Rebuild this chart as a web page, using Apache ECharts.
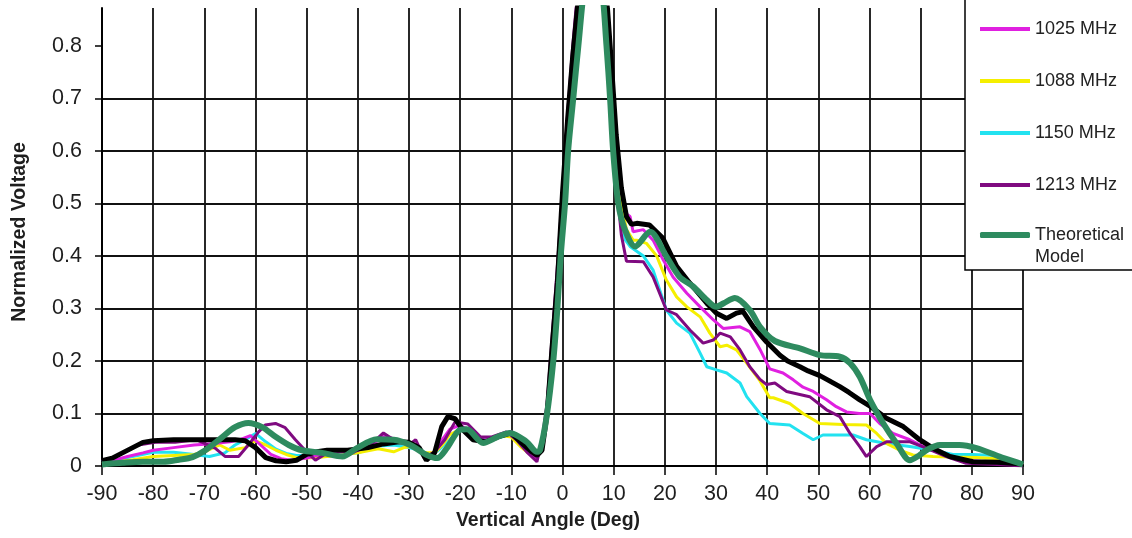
<!DOCTYPE html>
<html>
<head>
<meta charset="utf-8">
<script src="https://cdn.jsdelivr.net/npm/echarts@6/dist/echarts.min.js"></script>
<style>
html,body{margin:0;padding:0;background:#fff;}
#chart{width:1132px;height:538px;}
</style>
</head>
<body>
<div id="chart"></div>
<script>
// ---- Data (angle in degrees, normalized voltage) ----
const xTicks = [-90, 90, 10];
const yTickValues = [0, 0.1, 0.2, 0.3, 0.4, 0.5, 0.6, 0.7, 0.8];

const s962 = [[-90,0.01],[-88,0.015],[-86,0.025],[-84,0.035],[-82,0.045],[-80,0.048],[-76,0.05],[-72,0.05],[-68,0.05],[-64,0.05],[-62,0.048],[-60,0.035],[-58,0.016],[-56,0.01],[-54,0.008],[-52,0.011],[-50,0.022],[-48,0.027],[-46,0.03],[-42,0.03],[-38,0.035],[-35,0.042],[-32,0.046],[-30,0.045],[-28,0.035],[-26.6,0.011],[-25,0.025],[-23.6,0.075],[-22.4,0.094],[-21,0.09],[-19.5,0.069],[-17.5,0.05],[-15,0.046],[-12.5,0.056],[-10,0.063],[-8,0.044],[-6,0.027],[-5,0.02],[-4,0.03],[-3,0.1],[-2,0.23],[-1,0.35],[0,0.52],[1,0.66],[2,0.78],[3,0.88],[6,1.0],[8,0.93],[8.8,0.87],[9.6,0.76],[10.5,0.63],[11.5,0.53],[12.5,0.475],[13.5,0.46],[14.5,0.462],[17,0.459],[19.6,0.434],[22.3,0.38],[24.9,0.348],[28.2,0.31],[30.1,0.291],[32.1,0.281],[34,0.291],[35.3,0.294],[37.3,0.265],[39.9,0.236],[42.5,0.211],[44,0.2],[46.4,0.189],[48,0.181],[50.3,0.172],[52,0.163],[54.2,0.151],[56,0.14],[58.1,0.126],[60.1,0.114],[63.3,0.091],[66.6,0.075],[69.8,0.05],[72.4,0.034],[75.7,0.018],[80.2,0.008],[85,0.007],[90,0.004]];

const s1025 = [[-90,0.008],[-88,0.01],[-85,0.018],[-82,0.025],[-80,0.03],[-76,0.035],[-72,0.04],[-68,0.043],[-65,0.046],[-63,0.05],[-61,0.058],[-59,0.04],[-57,0.022],[-55,0.014],[-53,0.011],[-50,0.015],[-48,0.02],[-45,0.025],[-40,0.03],[-37,0.04],[-35.3,0.058],[-33,0.052],[-30,0.042],[-28,0.03],[-26.5,0.016],[-25,0.025],[-23.5,0.05],[-22,0.07],[-20,0.078],[-18,0.066],[-16,0.05],[-14,0.05],[-12,0.06],[-10,0.066],[-8,0.042],[-6,0.022],[-5,0.015],[-4,0.04],[-3,0.1],[-2,0.22],[-1,0.36],[0,0.5],[1,0.65],[2,0.78],[3,0.9],[6,1.0],[8,0.92],[8.8,0.85],[9.6,0.74],[10.5,0.61],[11.5,0.52],[12.5,0.48],[13.2,0.475],[13.8,0.446],[15.8,0.45],[17.7,0.43],[19.7,0.392],[21.6,0.36],[24.3,0.329],[26.9,0.303],[29.5,0.278],[31.4,0.262],[34.7,0.265],[36.6,0.256],[38.6,0.222],[40.5,0.185],[43.1,0.177],[45.1,0.164],[47,0.15],[49,0.142],[51.6,0.126],[53.5,0.113],[55.5,0.103],[58,0.1],[60.1,0.1],[62,0.081],[64.6,0.062],[67.9,0.05],[71.1,0.034],[75,0.021],[78.9,0.011],[85,0.006],[90,0.003]];

const s1088 = [[-90,0.005],[-87,0.008],[-84,0.012],[-80,0.018],[-76,0.02],[-72,0.022],[-70,0.027],[-67,0.04],[-65,0.03],[-62,0.035],[-60,0.048],[-58,0.04],[-56,0.03],[-54,0.022],[-52,0.016],[-50,0.015],[-47,0.017],[-44,0.02],[-40,0.025],[-36,0.033],[-33,0.027],[-31,0.035],[-29,0.038],[-27,0.025],[-25,0.025],[-23.5,0.04],[-22,0.06],[-20,0.07],[-18,0.06],[-16,0.048],[-14,0.05],[-12,0.058],[-10,0.055],[-8,0.035],[-6,0.02],[-5,0.015],[-4,0.035],[-3,0.1],[-2,0.22],[-1,0.36],[0,0.5],[1,0.65],[2,0.78],[3,0.9],[6,1.0],[8,0.9],[8.8,0.83],[9.6,0.72],[10.5,0.59],[11.5,0.5],[12.5,0.45],[13.8,0.43],[14.5,0.43],[16.4,0.424],[18.4,0.4],[20.3,0.354],[22.3,0.322],[24.3,0.303],[26.9,0.284],[28.8,0.253],[30.8,0.227],[32.1,0.23],[34,0.221],[36,0.196],[38.6,0.162],[40.5,0.13],[41.2,0.13],[44.4,0.119],[47,0.1],[50.3,0.081],[54.8,0.079],[59.4,0.078],[61.4,0.062],[63.3,0.043],[65.9,0.03],[68.5,0.021],[72.4,0.018],[76,0.017],[80.9,0.016],[85,0.014],[90,0.003]];

const s1150 = [[-90,0.008],[-87,0.012],[-84,0.018],[-80,0.026],[-76,0.026],[-72,0.022],[-69,0.018],[-66,0.025],[-64,0.04],[-62,0.05],[-60,0.062],[-58,0.046],[-56,0.032],[-54,0.024],[-52,0.02],[-50,0.02],[-45,0.02],[-40,0.025],[-36,0.038],[-33,0.04],[-30,0.035],[-28,0.03],[-26,0.02],[-24.5,0.028],[-22,0.05],[-20,0.07],[-18,0.06],[-15,0.05],[-12,0.055],[-10,0.06],[-8,0.04],[-6,0.03],[-5,0.02],[-4,0.04],[-3,0.1],[-2,0.22],[-1,0.36],[0,0.5],[1,0.65],[2,0.78],[3,0.9],[6,1.0],[8,0.9],[8.8,0.82],[9.6,0.7],[10.5,0.57],[11.5,0.47],[12.3,0.43],[13.2,0.418],[15.8,0.4],[17.7,0.373],[20.3,0.297],[22.3,0.272],[24.9,0.253],[26.9,0.215],[28.2,0.189],[30.1,0.183],[32.1,0.177],[34.7,0.158],[36,0.132],[38.6,0.1],[40.5,0.081],[44.4,0.078],[47,0.062],[49,0.05],[50.9,0.059],[56.8,0.059],[59.4,0.05],[63.3,0.043],[67.9,0.037],[72.4,0.03],[76.3,0.022],[80,0.022],[85,0.02],[90,0.003]];

const s1213 = [[-90,0.011],[-88,0.015],[-84.8,0.03],[-82.9,0.04],[-79.6,0.045],[-75.7,0.045],[-71.6,0.05],[-67.9,0.034],[-65.9,0.018],[-63.3,0.018],[-61.4,0.04],[-59.4,0.065],[-58.1,0.078],[-56.1,0.081],[-54.2,0.073],[-52.2,0.05],[-50.3,0.03],[-48.3,0.011],[-46,0.025],[-42.5,0.018],[-40,0.03],[-37,0.045],[-35,0.063],[-33,0.05],[-30,0.04],[-28.7,0.05],[-27,0.015],[-25,0.027],[-23,0.05],[-21,0.084],[-18.5,0.08],[-16,0.055],[-14,0.055],[-11,0.065],[-9,0.05],[-7,0.027],[-5,0.008],[-4,0.05],[-3,0.12],[-2,0.25],[-1,0.38],[0,0.52],[1,0.67],[2,0.8],[3,0.91],[6,1.0],[8,0.9],[8.8,0.8],[9.6,0.68],[10.5,0.54],[11.5,0.44],[12.5,0.39],[15.8,0.389],[17.7,0.36],[20.3,0.297],[22.3,0.288],[24.9,0.259],[27.5,0.234],[29.5,0.24],[30.8,0.253],[32.8,0.246],[34.7,0.221],[36.6,0.189],[38.6,0.165],[39.9,0.155],[41.5,0.158],[43.8,0.142],[48.3,0.132],[51.6,0.107],[54.2,0.094],[56.2,0.062],[58.1,0.037],[59.4,0.018],[61.4,0.037],[63.3,0.046],[67.9,0.046],[71.1,0.034],[75,0.018],[78.9,0.005],[85,0.003],[90,0.0]];

const sTheory = [[-90,0.003],[-86,0.006],[-82,0.008],[-78,0.008],[-75,0.012],[-72.3,0.017],[-69.8,0.03],[-66.5,0.055],[-64,0.074],[-61.4,0.082],[-58.7,0.074],[-56,0.055],[-53.5,0.04],[-50.9,0.03],[-47,0.025],[-43,0.018],[-40.2,0.034],[-36.3,0.051],[-33,0.05],[-29.8,0.04],[-26.5,0.021],[-24.5,0.015],[-22.6,0.034],[-20,0.069],[-18.7,0.07],[-15.5,0.044],[-12.8,0.055],[-10.3,0.063],[-7,0.046],[-5,0.027],[-4.4,0.03],[-3.1,0.094],[-1.8,0.2],[-1,0.3],[-0.35,0.4],[0.5,0.5],[1.1,0.6],[2.1,0.7],[3.1,0.8],[4.5,0.93],[6,0.98],[7.5,0.93],[8.6,0.8],[9.3,0.7],[9.9,0.6],[10.9,0.5],[12.2,0.45],[14.2,0.418],[17.1,0.446],[20.3,0.399],[22.9,0.36],[25.5,0.342],[28.2,0.316],[30,0.303],[31.5,0.31],[33.7,0.32],[36.6,0.297],[38.6,0.265],[41.5,0.238],[46.4,0.224],[50.3,0.211],[54.2,0.208],[56.2,0.196],[58.1,0.17],[60.1,0.126],[62.7,0.081],[65.3,0.043],[67.9,0.011],[69.7,0.02],[71.1,0.03],[73.7,0.04],[77.6,0.04],[80.9,0.034],[85.4,0.018],[90,0.003]];

const names = ['962 MHz','1025 MHz','1088 MHz','1150 MHz','1213 MHz','Theoretical Model'];
const colors = ['#000000','#e020e0','#f5ef00','#22e2f0','#7f0a80','#2e8b5f'];

// ---- Chart ----
const chart = echarts.init(document.getElementById('chart'), null, {renderer:'canvas'});
const txt = '#1e1e1e';
const sans = '"Liberation Sans", Arial, sans-serif';

function lineSeries(i, data, width, z, smooth) {
  return {
    name: names[i], type: 'line', data: data, showSymbol: false, symbol: 'none',
    smooth: smooth || false, z: z, clip: true, animation: false,
    lineStyle: {color: colors[i], width: width},
    itemStyle: {color: colors[i]}
  };
}

const option = {
  backgroundColor: '#ffffff',
  animation: false,
  grid: {left: 102, right: 109, top: 8, bottom: 72},
  xAxis: {
    type: 'value', min: xTicks[0], max: xTicks[1], interval: xTicks[2],
    name: 'Vertical Angle (Deg)', nameLocation: 'middle', nameGap: 45,
    nameTextStyle: {fontFamily: sans, fontWeight: 'bold', fontSize: 19.5, color: txt, padding: [0, 29, 0, 0]},
    axisLine: {show: true, onZero: false, lineStyle: {color: '#000', width: 2}},
    axisTick: {show: true, length: 9, lineStyle: {color: '#000', width: 1.5}},
    axisLabel: {fontFamily: sans, fontSize: 21.5, color: txt, margin: 17},
    splitLine: {show: true, lineStyle: {color: '#111', width: 1.8}}
  },
  yAxis: {
    type: 'value', min: 0, max: 0.872,
    name: 'Normalized Voltage', nameLocation: 'middle', nameGap: 72,
    nameTextStyle: {fontFamily: sans, fontWeight: 'bold', fontSize: 19.5, color: txt, padding: [0, 0, 0, 10]},
    axisLine: {show: true, onZero: false, lineStyle: {color: '#000', width: 2}},
    axisTick: {show: true, length: 7, customValues: yTickValues, lineStyle: {color: '#000', width: 1.5}},
    axisLabel: {customValues: yTickValues, fontFamily: sans, fontSize: 21.5, color: txt, margin: 20,
      formatter: function (v) { return String(Math.round(v * 10) / 10); }},
    splitLine: {show: true, showMaxLine: false, lineStyle: {color: '#111', width: 1.8}}
  },
  legend: [
    {
      data: names.slice(0, 5),
      orient: 'vertical', left: 965, top: -44,
      padding: [10, 20, 74, 15],
      itemWidth: 50, itemHeight: 4, itemGap: 30, icon: 'rect',
      backgroundColor: '#ffffff', borderColor: '#000', borderWidth: 1.5, borderRadius: 0,
      selectedMode: false,
      textStyle: {fontFamily: sans, fontSize: 18, lineHeight: 22, color: '#222'},
      z: 10
    },
    {
      data: [names[5]],
      orient: 'vertical', left: 965, top: 202,
      padding: [0, 0, 0, 15],
      itemWidth: 50, itemHeight: 6, icon: 'roundRect',
      selectedMode: false,
      formatter: function () { return '\nTheoretical\nModel'; },
      textStyle: {fontFamily: sans, fontSize: 18, lineHeight: 22, color: '#222'},
      z: 11
    }
  ],
  series: [
    lineSeries(3, s1150, 3, 2),
    lineSeries(2, s1088, 3, 2),
    lineSeries(1, s1025, 3, 2),
    lineSeries(4, s1213, 3, 2),
    lineSeries(0, s962, 5, 2),
    lineSeries(5, sTheory, 6, 2, 0.3)
  ]
};
chart.setOption(option);
</script>
</body>
</html>
